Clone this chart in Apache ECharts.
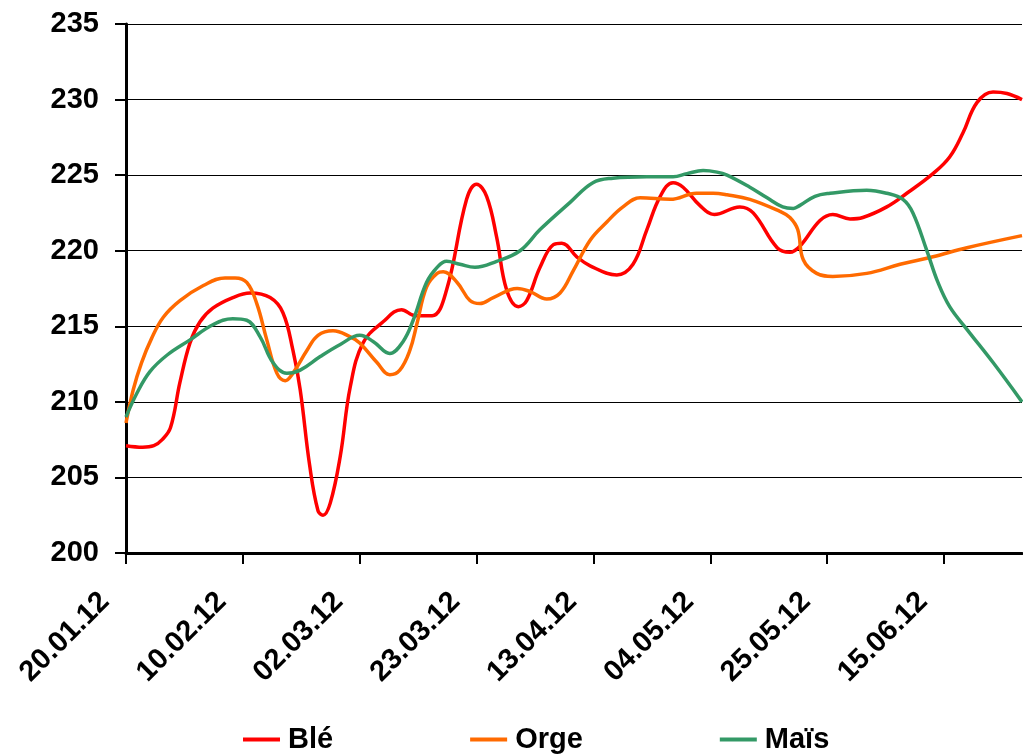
<!DOCTYPE html>
<html>
<head>
<meta charset="utf-8">
<script src="https://cdn.jsdelivr.net/npm/echarts@6/dist/echarts.min.js"></script>
<style>
  html, body { margin:0; padding:0; background:#fff; }
  #chart { width:1023px; height:755px; }
</style>
</head>
<body>
<div id="chart"></div>
<script>
// days counted from 20.01.12
var tickDays = [0, 21, 42, 63, 84, 105, 126, 147];
var tickLabels = ['20.01.12','10.02.12','02.03.12','23.03.12','13.04.12','04.05.12','25.05.12','15.06.12'];

var bleDays = [0,3,5,6.5,8,9.7,11.5,13.3,15.6,19.2,22.3,25.9,28.2,30,31.3,33,34.5,35.4,36.7,38.5,40.3,42.6,46.2,49.5,52,55,57.6,61.2,63,64.8,66.6,68.4,70.5,72,74.4,76.8,78.3,81,83.4,88.2,91.1,93.6,96,98.3,100.1,103.1,105.7,110.3,112.7,117,119.3,121.1,124.7,127,130.1,132.4,136.7,140.3,145,148,150.4,152.9,155.8,158.3,161];
var bleValues = [207.1,207.0,207.1,207.5,208.3,211.3,213.9,215.3,216.2,216.9,217.2,216.9,215.9,213.4,210.8,205.8,202.8,202.5,203.3,206.4,211.0,213.9,215.3,216.1,215.7,215.7,217.4,223.4,224.4,223.6,220.9,217.4,216.3,216.7,218.9,220.4,220.5,219.6,219.0,218.4,219.1,221.4,223.6,224.5,224.2,223.0,222.4,222.9,222.5,220.2,219.9,220.3,222.0,222.4,222.1,222.2,222.9,223.8,225.1,226.2,227.8,229.8,230.5,230.4,230.0];

var orgeDays = [0,1.3,2.8,4.6,6.7,9.7,13.9,17.8,19.6,21.7,23.5,25.3,27.1,28.6,30,32.5,34.5,37.2,40.3,42,45.1,47.4,49.2,51,52.3,54,55.9,57,59.5,61.8,63.6,66,70.3,72.6,75.6,78,80.4,83.4,86.4,89.3,92.4,97.8,102.5,105.5,108,112.1,117.5,119.3,120.7,121.7,124.1,127,133.1,139.1,145,151.1,161];
var orgeValues = [208.6,210.8,212.6,214.2,215.6,216.7,217.7,218.2,218.2,217.9,216.5,214.1,211.9,211.4,211.9,213.4,214.4,214.7,214.3,213.9,212.6,211.8,212.1,213.4,215.2,217.6,218.5,218.6,217.9,216.7,216.5,216.9,217.5,217.3,216.8,217.2,218.7,220.7,221.9,222.9,223.5,223.4,223.8,223.8,223.7,223.4,222.6,222.2,221.4,219.4,218.5,218.3,218.5,219.1,219.6,220.2,221.0];

var maisDays = [0,2,4.3,7.4,11.5,15.6,19.2,21.7,24.1,26.4,28.9,31.3,34.9,38.5,42,44.4,47.4,49.8,51.6,54,55.9,57.6,60,62.7,66.6,70.8,74.4,79.8,83.9,87.5,93.6,98.3,100.8,103.7,106.2,108,112.1,115.2,118,119.9,121.1,123.8,126.5,133.1,136.7,139.6,141.4,143.9,145.9,148,151.1,155.8,161];
var maisValues = [209.0,210.6,212.0,213.1,214.1,215.1,215.5,215.4,214.3,212.6,211.9,212.1,213.0,213.8,214.4,214.0,213.2,214.0,215.4,217.9,218.9,219.3,219.1,218.9,219.3,220.0,221.4,223.2,224.5,224.8,224.9,224.9,225.1,225.3,225.2,225.0,224.2,223.5,222.9,222.8,223.0,223.6,223.8,224.0,223.8,223.4,222.5,220.0,217.9,216.3,214.8,212.6,210.0];

function zip(xs, ys){
  var out = [];
  for (var i = 0; i < xs.length; i++) out.push([xs[i], ys[i]]);
  return out;
}

var font = 'Liberation Sans';
var chart = echarts.init(document.getElementById('chart'));

function line(name, days, values, color){
  return {
    name: name,
    type: 'line',
    data: zip(days, values),
    smooth: 0.4,
    showSymbol: false,
    symbol: 'none',
    lineStyle: { color: color, width: 3.5 },
    itemStyle: { color: color },
    animation: false
  };
}

chart.setOption({
  backgroundColor: '#fff',
  animation: false,
  grid: { left: 126, right: 1, top: 24, bottom: 202, outerBoundsMode: 'none' },
  legend: {
    left: 238,
    top: 720,
    itemWidth: 37,
    itemHeight: 4,
    itemGap: 137,
    icon: 'rect',
    textStyle: { fontFamily: font, fontWeight: 'bold', fontSize: 29, color: '#000', padding: [0, 0, 0, 3] },
    data: ['Blé', 'Orge', 'Maïs']
  },
  xAxis: {
    type: 'value',
    min: 0,
    max: 161,
    interval: 21,
    axisLine: { lineStyle: { color: '#000', width: 3 } },
    axisTick: { show: true, length: 11, lineStyle: { color: '#000', width: 2 }, customValues: tickDays },
    splitLine: { show: false },
    axisLabel: {
      customValues: tickDays,
      rotate: 45,
      margin: 23,
      padding: [0, 30, 0, 0],
      fontFamily: font,
      fontWeight: 'bold',
      fontSize: 29,
      color: '#000',
      formatter: function (v) {
        var i = tickDays.indexOf(v);
        return i >= 0 ? tickLabels[i] : '';
      }
    }
  },
  yAxis: {
    type: 'value',
    min: 200,
    max: 235,
    interval: 5,
    axisLine: { show: true, lineStyle: { color: '#000', width: 3 } },
    axisTick: { show: true, length: 11, lineStyle: { color: '#000', width: 2 } },
    splitLine: { show: true, lineStyle: { color: '#000', width: 1 } },
    axisLabel: { margin: 27, fontFamily: font, fontWeight: 'bold', fontSize: 29, color: '#000' }
  },
  series: [
    line('Blé', bleDays, bleValues, '#ff0000'),
    line('Orge', orgeDays, orgeValues, '#ff6a00'),
    line('Maïs', maisDays, maisValues, '#339966')
  ]
});
</script>
</body>
</html>
